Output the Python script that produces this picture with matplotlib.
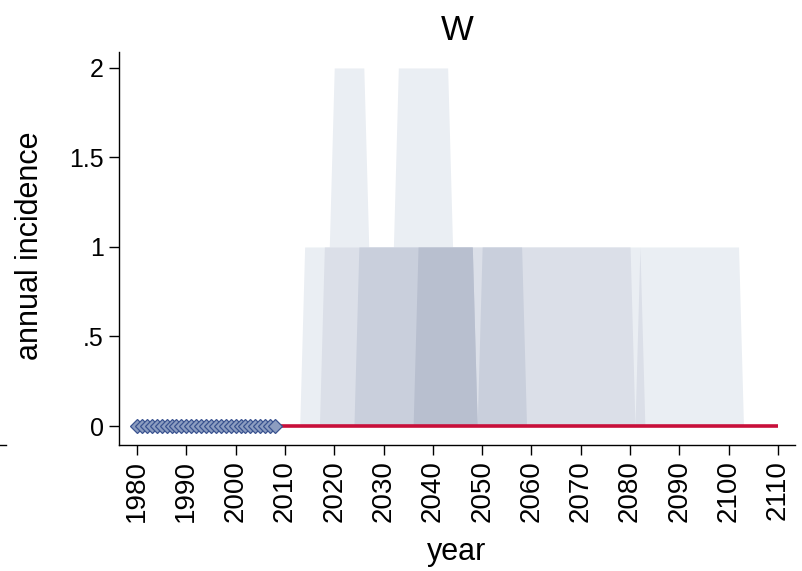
import numpy as np
import matplotlib
matplotlib.use("Agg")
import matplotlib.pyplot as plt
from matplotlib.lines import Line2D

plt.rcParams['font.family'] = ['Liberation Sans', 'DejaVu Sans']

# ---------------- data ----------------
obs_years = list(range(1980, 2009))
obs_values = [0, 0, 0, 0, 0, 0, 0, 0, 0, 0,
              0, 0, 0, 0, 0, 0, 0, 0, 0, 0,
              0, 0, 0, 0, 0, 0, 0, 0, 0]

proj_years = list(range(2009, 2111))
median_values = [0,
                 0, 0, 0, 0, 0, 0, 0, 0, 0, 0,
                 0, 0, 0, 0, 0, 0, 0, 0, 0, 0,
                 0, 0, 0, 0, 0, 0, 0, 0, 0, 0,
                 0, 0, 0, 0, 0, 0, 0, 0, 0, 0,
                 0, 0, 0, 0, 0, 0, 0, 0, 0, 0,
                 0, 0, 0, 0, 0, 0, 0, 0, 0, 0,
                 0, 0, 0, 0, 0, 0, 0, 0, 0, 0,
                 0, 0, 0, 0, 0, 0, 0, 0, 0, 0,
                 0, 0, 0, 0, 0, 0, 0, 0, 0, 0,
                 0, 0, 0, 0, 0, 0, 0, 0, 0, 0,
                 0]
# upper percentile bands (2009 ... 2110)
p95 = [0,
       0, 0, 0, 0, 1, 1, 1, 1, 1, 1,
       2, 2, 2, 2, 2, 2, 2, 1, 1, 1,
       1, 1, 1, 2, 2, 2, 2, 2, 2, 2,
       2, 2, 2, 2, 1, 1, 1, 1, 1, 1,
       1, 1, 1, 1, 1, 1, 1, 1, 1, 1,
       1, 1, 1, 1, 1, 1, 1, 1, 1, 1,
       1, 1, 1, 1, 1, 1, 1, 1, 1, 1,
       1, 1, 1, 1, 1, 1, 1, 1, 1, 1,
       1, 1, 1, 1, 1, 1, 1, 1, 1, 1,
       1, 1, 1, 0, 0, 0, 0, 0, 0, 0,
       0]
p90 = [0,
       0, 0, 0, 0, 0, 0, 0, 0, 1, 1,
       1, 1, 1, 1, 1, 1, 1, 1, 1, 1,
       1, 1, 1, 1, 1, 1, 1, 1, 1, 1,
       1, 1, 1, 1, 1, 1, 1, 1, 1, 1,
       1, 1, 1, 1, 1, 1, 1, 1, 1, 1,
       1, 1, 1, 1, 1, 1, 1, 1, 1, 1,
       1, 1, 1, 1, 1, 1, 1, 1, 1, 1,
       1, 0, 1, 0, 0, 0, 0, 0, 0, 0,
       0, 0, 0, 0, 0, 0, 0, 0, 0, 0,
       0, 0, 0, 0, 0, 0, 0, 0, 0, 0,
       0]
p75 = [0,
       0, 0, 0, 0, 0, 0, 0, 0, 0, 0,
       0, 0, 0, 0, 0, 1, 1, 1, 1, 1,
       1, 1, 1, 1, 1, 1, 1, 1, 1, 1,
       1, 1, 1, 1, 1, 1, 1, 1, 1, 0,
       1, 1, 1, 1, 1, 1, 1, 1, 1, 0,
       0, 0, 0, 0, 0, 0, 0, 0, 0, 0,
       0, 0, 0, 0, 0, 0, 0, 0, 0, 0,
       0, 0, 0, 0, 0, 0, 0, 0, 0, 0,
       0, 0, 0, 0, 0, 0, 0, 0, 0, 0,
       0, 0, 0, 0, 0, 0, 0, 0, 0, 0,
       0]
p60 = [0,
       0, 0, 0, 0, 0, 0, 0, 0, 0, 0,
       0, 0, 0, 0, 0, 0, 0, 0, 0, 0,
       0, 0, 0, 0, 0, 0, 0, 1, 1, 1,
       1, 1, 1, 1, 1, 1, 1, 1, 1, 0,
       0, 0, 0, 0, 0, 0, 0, 0, 0, 0,
       0, 0, 0, 0, 0, 0, 0, 0, 0, 0,
       0, 0, 0, 0, 0, 0, 0, 0, 0, 0,
       0, 0, 0, 0, 0, 0, 0, 0, 0, 0,
       0, 0, 0, 0, 0, 0, 0, 0, 0, 0,
       0, 0, 0, 0, 0, 0, 0, 0, 0, 0,
       0]

bands = [p95, p90, p75, p60]
band_colors = ['#EAEEF3', '#DBDFE8', '#C9CFDC', '#B8BFCF']

x_ticks = list(range(1980, 2111, 10))
y_ticks = [0, 0.5, 1, 1.5, 2]
y_ticklabels = ['0', '.5', '1', '1.5', '2']

# ---------------- figure ----------------
W, H = 802, 571
fig = plt.figure(figsize=(W / 100, H / 100), dpi=100)
ax = fig.add_axes([119 / W, 1 - 445 / H, (795 - 119) / W, (445 - 52) / H])

for vals, col in zip(bands, band_colors):
    ax.fill_between(proj_years, 0, vals, color=col, linewidth=0, zorder=1)

ax.plot(proj_years, median_values, color='#C80F3A', linewidth=2.6,
        solid_capstyle='butt', zorder=3)
ax.plot(obs_years, obs_values, linestyle='none', marker='D', markersize=6.8,
        markerfacecolor='#8C9DC0', markeredgecolor='#3A5390',
        markeredgewidth=0.9, zorder=4)

ax.set_xlim(1976.35, 2113.45)
ax.set_ylim(-0.106, 2.089)

ax.set_xticks(x_ticks)
ax.set_xticklabels([str(t) for t in x_ticks], rotation=90)
ax.set_yticks(y_ticks)
ax.set_yticklabels(y_ticklabels)

ax.tick_params(axis='both', direction='out', length=7, width=1,
               color='black')
ax.tick_params(axis='x', labelsize=20, pad=4)
ax.tick_params(axis='y', labelsize=18, pad=4)

for side in ['top', 'right']:
    ax.spines[side].set_visible(False)
for side in ['left', 'bottom']:
    ax.spines[side].set_linewidth(1)
    ax.spines[side].set_color('black')

ax.set_title('W', fontsize=25, pad=9)

fig.text(30 / W, 1 - 246 / H, 'annual incidence', rotation=90,
         ha='center', va='center', fontsize=22)
fig.text(457 / W, 1 - 552 / H, 'year', ha='center', va='center', fontsize=22)

# end of the neighbouring panel's axis line at the left edge
fig.add_artist(Line2D([0, 6 / W], [1 - 445 / H, 1 - 445 / H],
                      transform=fig.transFigure, color='black', linewidth=1))

fig.savefig('out.png', dpi=100)
